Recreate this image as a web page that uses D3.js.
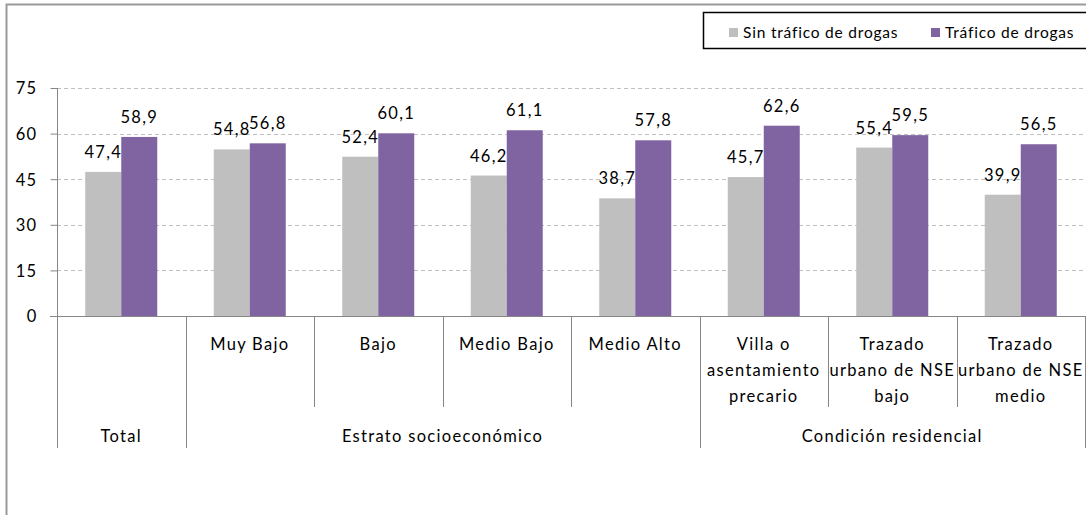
<!DOCTYPE html>
<html><head><meta charset="utf-8">
<script src="https://cdn.jsdelivr.net/npm/d3@7"></script>
<style>body{margin:0;background:#fff;} svg{display:block;font-family:Lato, "Open Sans", sans-serif;} text{letter-spacing:1.3px;}</style>
</head><body><svg id="c" width="1086" height="515"></svg>
<script>
const categories = ["Total","Muy Bajo","Bajo","Medio Bajo","Medio Alto","Villa o asentamiento precario","Trazado urbano de NSE bajo","Trazado urbano de NSE medio"];
const categoryLines = [[""],["Muy Bajo"],["Bajo"],["Medio Bajo"],["Medio Alto"],["Villa o","asentamiento","precario"],["Trazado","urbano de NSE","bajo"],["Trazado","urbano de NSE","medio"]];
const groups = [{name:"Total",start:0,end:1},{name:"Estrato socioeconómico",start:1,end:5},{name:"Condición residencial",start:5,end:8}];
const seriesNames = ["Sin tráfico de drogas","Tráfico de drogas"];
const sinTrafico = [47.4,54.8,52.4,46.2,38.7,45.7,55.4,39.9];
const trafico = [58.9,56.8,60.1,61.1,57.8,62.6,59.5,56.5];
const yTicks = [0,15,30,45,60,75];
const colors = ["#BFBFBF","#8064A2"];

const svg = d3.select("#c");
const L=57, R=1085, T=88, B=316;
const x = d3.scaleBand().domain(d3.range(categories.length)).range([L,R]).padding(0);
const y = d3.scaleLinear().domain([0,75]).range([B,T]);
const fmt = v => d3.format(".1f")(v).replace(".",",");

// outer border
svg.append("rect").attr("x",6.5).attr("y",4.5).attr("width",1100).attr("height",600).attr("fill","none").attr("stroke","#9a9a9a").attr("stroke-width",2);

// gridlines
svg.append("g").selectAll("line").data(yTicks.filter(d=>d>0)).join("line")
 .attr("x1",L).attr("x2",R).attr("y1",d=>Math.round(y(d))+0.5).attr("y2",d=>Math.round(y(d))+0.5)
 .attr("stroke","#c0c0c0").attr("stroke-dasharray","4,3");

// y axis
const yAxis = d3.axisLeft(y).tickValues(yTicks).tickSize(7).tickPadding(13).tickFormat(d=>d);
const ga = svg.append("g").attr("transform",`translate(${L+0.5},0)`).call(yAxis);
ga.select(".domain").attr("stroke","#868686").attr("d",`M0,${T}V${B}`);
ga.selectAll(".tick line").attr("stroke","#868686");
ga.selectAll("text").attr("font-size",16.5).attr("fill","#000").attr("font-family","Lato").attr("dy","0.36em");

// bars
const bw = 36;
const data = [sinTrafico, trafico];
data.forEach((vals,si)=>{
  svg.append("g").selectAll("rect").data(vals).join("rect")
   .attr("x",(d,i)=>x(i)+x.bandwidth()/2 - bw + si*bw)
   .attr("width",bw)
   .attr("y",d=>y(d)).attr("height",d=>B-y(d))
   .attr("fill",colors[si]);
  svg.append("g").selectAll("text").data(vals).join("text")
   .attr("x",(d,i)=>x(i)+x.bandwidth()/2 - bw/2 + si*bw)
   .attr("y",d=>y(d)-14)
   .attr("text-anchor","middle").attr("font-size",16.5).attr("fill","#000")
   .text(fmt);
});

// x axis line
svg.append("line").attr("x1",L-7).attr("x2",R).attr("y1",B+0.5).attr("y2",B+0.5).attr("stroke","#868686");

// category separators
const groupBounds = new Set();
groups.forEach(g=>{groupBounds.add(g.start);groupBounds.add(g.end);});
const seps = d3.range(categories.length+1);
svg.append("g").selectAll("line").data(seps).join("line")
 .attr("x1",i=>Math.round(i<categories.length?x(i):R)+0.5)
 .attr("x2",i=>Math.round(i<categories.length?x(i):R)+0.5)
 .attr("y1",B).attr("y2",i=>groupBounds.has(i)?448:407)
 .attr("stroke","#868686");

// category labels
const cl = svg.append("g").selectAll("text").data(categoryLines).join("text")
 .attr("text-anchor","middle").attr("font-size",16.5).attr("fill","#000");
cl.each(function(lines,i){
  const t=d3.select(this);
  lines.forEach((ln,k)=>{
    t.append("tspan").attr("x",x(i)+x.bandwidth()/2).attr("y",350+k*26).text(ln);
  });
});

// group labels
svg.append("g").selectAll("text").data(groups).join("text")
 .attr("x",g=>( (x(g.start)) + (g.end<categories.length?x(g.end):R) )/2)
 .attr("y",442).attr("text-anchor","middle").attr("font-size",16.5).attr("fill","#000")
 .text(g=>g.name);

// legend
const lg = svg.append("g");
lg.append("rect").attr("x",703.5).attr("y",12.5).attr("width",400).attr("height",36).attr("fill","#fff").attr("stroke","#000").attr("stroke-width",1.5);
const lx=[729,931];
seriesNames.forEach((n,i)=>{
  lg.append("rect").attr("x",lx[i]).attr("y",28).attr("width",9).attr("height",9).attr("fill",colors[i]);
  lg.append("text").attr("x",lx[i]+14).attr("y",38).attr("font-size",15.5).style("letter-spacing","0.8px").attr("fill","#000").text(n);
});
</script></body></html>
